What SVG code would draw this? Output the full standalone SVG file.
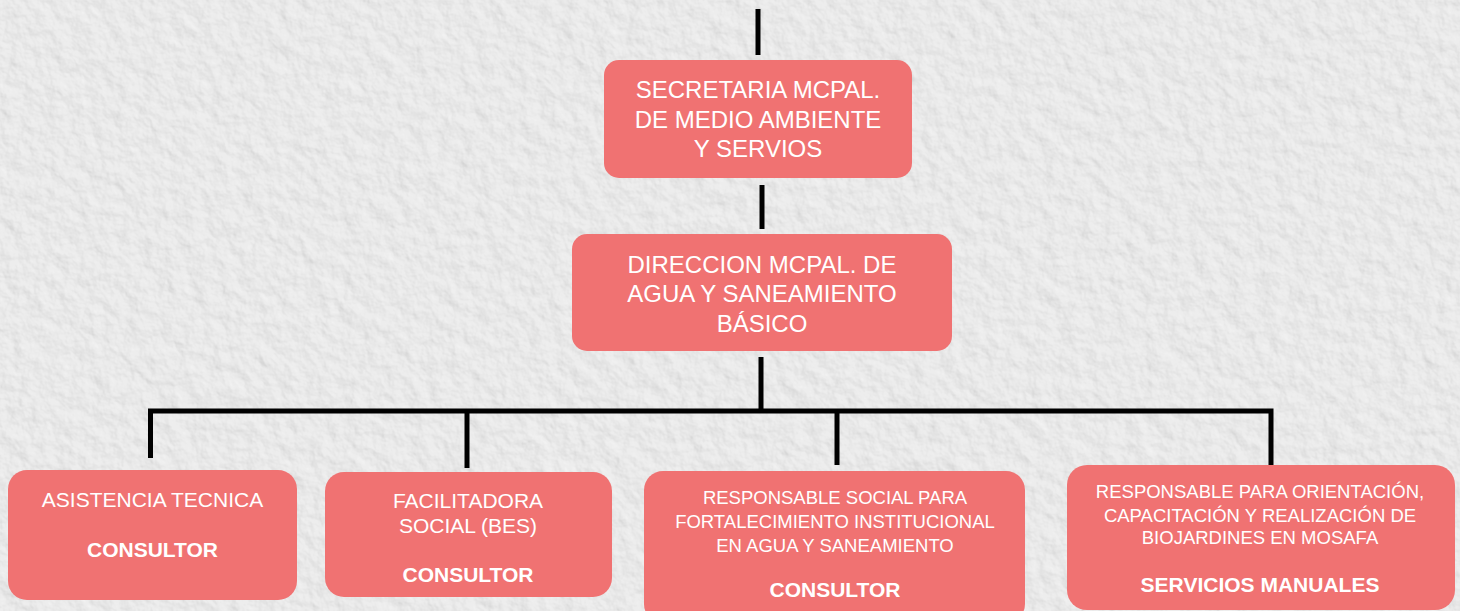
<svg xmlns="http://www.w3.org/2000/svg" width="1460" height="611" viewBox="0 0 1460 611">
  <defs>
    <filter id="paper" x="0" y="0" width="100%" height="100%">
      <feTurbulence type="fractalNoise" baseFrequency="0.06" numOctaves="4" seed="3" result="noise"/>
      <feDiffuseLighting in="noise" surfaceScale="1.4" lighting-color="#f4f4f4" result="lit">
        <feDistantLight azimuth="135" elevation="64"/>
      </feDiffuseLighting>
    </filter>
    <style>
      .box { fill: #f07272; }
      .t { font-family: "Liberation Sans", Arial, sans-serif; fill: #ffffff; text-anchor: middle; }
      .big { font-size: 24px; }
      .mid { font-size: 21px; }
      .sm { font-size: 18.5px; }
      .b { font-size: 21px; font-weight: bold; }
      .ln { stroke: #000000; stroke-width: 5; fill: none; stroke-linecap: butt; stroke-linejoin: miter; }
    </style>
  </defs>

  <rect x="0" y="0" width="1460" height="611" fill="#ededed"/>
  <rect x="0" y="0" width="1460" height="611" filter="url(#paper)" opacity="0.9"/>

  <g id="connectors">
    <line class="ln" x1="758" y1="9" x2="758" y2="55"/>
    <line class="ln" x1="762" y1="185" x2="762" y2="229"/>
    <line class="ln" x1="761" y1="357" x2="761" y2="411"/>
    <path class="ln" d="M150.5 458 V411 H1271 V465"/>
    <line class="ln" x1="467" y1="411" x2="467" y2="468"/>
    <line class="ln" x1="837" y1="411" x2="837" y2="465"/>
  </g>

  <g id="secretaria">
    <rect class="box" x="604" y="60" width="308" height="118" rx="15"/>
    <text class="t big" x="758" y="98">SECRETARIA MCPAL.</text>
    <text class="t big" x="758" y="128">DE MEDIO AMBIENTE</text>
    <text class="t big" x="758" y="157">Y SERVIOS</text>
  </g>

  <g id="direccion">
    <rect class="box" x="572" y="234" width="380" height="117" rx="15"/>
    <text class="t big" x="762" y="273">DIRECCION MCPAL. DE</text>
    <text class="t big" x="762" y="302">AGUA Y SANEAMIENTO</text>
    <text class="t big" x="762" y="332">BÁSICO</text>
  </g>

  <g id="asistencia">
    <rect class="box" x="8" y="470" width="289" height="130" rx="19"/>
    <text class="t mid" x="152.5" y="507">ASISTENCIA TECNICA</text>
    <text class="t b" x="152.5" y="557">CONSULTOR</text>
  </g>

  <g id="facilitadora">
    <rect class="box" x="325" y="472" width="287" height="125" rx="19"/>
    <text class="t mid" x="468" y="508">FACILITADORA</text>
    <text class="t mid" x="468" y="533">SOCIAL (BES)</text>
    <text class="t b" x="468" y="582">CONSULTOR</text>
  </g>

  <g id="responsable-social">
    <rect class="box" x="644" y="471" width="381" height="152" rx="19"/>
    <text class="t sm" x="835" y="504">RESPONSABLE SOCIAL PARA</text>
    <text class="t sm" x="835" y="528">FORTALECIMIENTO INSTITUCIONAL</text>
    <text class="t sm" x="835" y="552">EN AGUA Y SANEAMIENTO</text>
    <text class="t b" x="835" y="597">CONSULTOR</text>
  </g>

  <g id="responsable-biojardines">
    <rect class="box" x="1067" y="465" width="388" height="145" rx="20"/>
    <text class="t sm" x="1260" y="498">RESPONSABLE PARA ORIENTACIÓN,</text>
    <text class="t sm" x="1260" y="522">CAPACITACIÓN Y REALIZACIÓN DE</text>
    <text class="t sm" x="1260" y="544">BIOJARDINES EN MOSAFA</text>
    <text class="t b" x="1260" y="592">SERVICIOS MANUALES</text>
  </g>
</svg>
